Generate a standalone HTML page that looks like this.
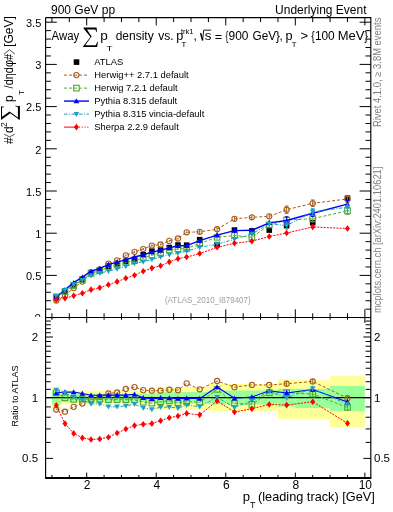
<!DOCTYPE html><html><head><meta charset="utf-8"><style>html,body{margin:0;padding:0;background:#fff;overflow:hidden}svg{display:block}text{font-family:"Liberation Sans",sans-serif}svg{will-change:transform}</style></head><body>
<svg width="393" height="512" viewBox="0 0 393 512">
<rect width="393" height="512" fill="#fff"/>
<g id="main">
<rect x="53.48" y="295.22" width="5.6" height="5.6" fill="#000"/>
<rect x="62.17" y="288.72" width="5.6" height="5.6" fill="#000"/>
<rect x="70.86" y="282.05" width="5.6" height="5.6" fill="#000"/>
<rect x="79.55" y="276.31" width="5.6" height="5.6" fill="#000"/>
<rect x="88.25" y="269.73" width="5.6" height="5.6" fill="#000"/>
<rect x="96.94" y="267.03" width="5.6" height="5.6" fill="#000"/>
<rect x="105.63" y="263.32" width="5.6" height="5.6" fill="#000"/>
<rect x="114.32" y="260.95" width="5.6" height="5.6" fill="#000"/>
<rect x="123.02" y="258.51" width="5.6" height="5.6" fill="#000"/>
<rect x="131.71" y="256.56" width="5.6" height="5.6" fill="#000"/>
<rect x="140.40" y="251.92" width="5.6" height="5.6" fill="#000"/>
<rect x="149.09" y="248.29" width="5.6" height="5.6" fill="#000"/>
<rect x="157.79" y="247.28" width="5.6" height="5.6" fill="#000"/>
<rect x="166.48" y="244.75" width="5.6" height="5.6" fill="#000"/>
<rect x="175.17" y="242.22" width="5.6" height="5.6" fill="#000"/>
<rect x="183.86" y="242.38" width="5.6" height="5.6" fill="#000"/>
<rect x="196.90" y="236.90" width="5.6" height="5.6" fill="#000"/>
<rect x="214.29" y="241.79" width="5.6" height="5.6" fill="#000"/>
<rect x="231.67" y="227.28" width="5.6" height="5.6" fill="#000"/>
<rect x="249.06" y="228.12" width="5.6" height="5.6" fill="#000"/>
<rect x="266.44" y="227.28" width="5.6" height="5.6" fill="#000"/>
<rect x="283.83" y="222.80" width="5.6" height="5.6" fill="#000"/>
<rect x="309.91" y="219.85" width="5.6" height="5.6" fill="#000"/>
<rect x="344.68" y="195.46" width="5.6" height="5.6" fill="#000"/>
<path d="M56.28,300.49 L64.97,295.38 L73.66,288.09 L82.35,281.58 L91.05,273.43 L99.74,269.35 L108.43,263.54 L117.12,260.41 L125.82,255.39 L134.51,251.85 L143.20,249.06 L151.89,245.57 L160.59,244.48 L169.28,240.89 L177.97,238.48 L186.66,232.29 L199.70,231.83 L217.09,229.26 L234.47,218.87 L251.86,217.31 L269.24,216.34 L286.63,209.69 L312.71,203.28 L347.48,198.97" fill="none" stroke="#a85c1c" stroke-width="1.0" stroke-dasharray="3,2"/>
<path d="M56.28,299.49V301.49" stroke="#a85c1c" stroke-width="1"/>
<circle cx="56.28" cy="300.49" r="2.6" fill="none" stroke="#a85c1c" stroke-width="1.1"/>
<path d="M64.97,294.38V296.38" stroke="#a85c1c" stroke-width="1"/>
<circle cx="64.97" cy="295.38" r="2.6" fill="none" stroke="#a85c1c" stroke-width="1.1"/>
<path d="M73.66,287.09V289.09" stroke="#a85c1c" stroke-width="1"/>
<circle cx="73.66" cy="288.09" r="2.6" fill="none" stroke="#a85c1c" stroke-width="1.1"/>
<path d="M82.35,280.58V282.58" stroke="#a85c1c" stroke-width="1"/>
<circle cx="82.35" cy="281.58" r="2.6" fill="none" stroke="#a85c1c" stroke-width="1.1"/>
<path d="M91.05,272.43V274.43" stroke="#a85c1c" stroke-width="1"/>
<circle cx="91.05" cy="273.43" r="2.6" fill="none" stroke="#a85c1c" stroke-width="1.1"/>
<path d="M99.74,268.35V270.35" stroke="#a85c1c" stroke-width="1"/>
<circle cx="99.74" cy="269.35" r="2.6" fill="none" stroke="#a85c1c" stroke-width="1.1"/>
<path d="M108.43,262.54V264.54" stroke="#a85c1c" stroke-width="1"/>
<circle cx="108.43" cy="263.54" r="2.6" fill="none" stroke="#a85c1c" stroke-width="1.1"/>
<path d="M117.12,259.41V261.41" stroke="#a85c1c" stroke-width="1"/>
<circle cx="117.12" cy="260.41" r="2.6" fill="none" stroke="#a85c1c" stroke-width="1.1"/>
<path d="M125.82,254.39V256.39" stroke="#a85c1c" stroke-width="1"/>
<circle cx="125.82" cy="255.39" r="2.6" fill="none" stroke="#a85c1c" stroke-width="1.1"/>
<path d="M134.51,250.85V252.85" stroke="#a85c1c" stroke-width="1"/>
<circle cx="134.51" cy="251.85" r="2.6" fill="none" stroke="#a85c1c" stroke-width="1.1"/>
<path d="M143.20,248.06V250.06" stroke="#a85c1c" stroke-width="1"/>
<circle cx="143.20" cy="249.06" r="2.6" fill="none" stroke="#a85c1c" stroke-width="1.1"/>
<path d="M151.89,244.57V246.57" stroke="#a85c1c" stroke-width="1"/>
<circle cx="151.89" cy="245.57" r="2.6" fill="none" stroke="#a85c1c" stroke-width="1.1"/>
<path d="M160.59,243.48V245.48" stroke="#a85c1c" stroke-width="1"/>
<circle cx="160.59" cy="244.48" r="2.6" fill="none" stroke="#a85c1c" stroke-width="1.1"/>
<path d="M169.28,239.89V241.89" stroke="#a85c1c" stroke-width="1"/>
<circle cx="169.28" cy="240.89" r="2.6" fill="none" stroke="#a85c1c" stroke-width="1.1"/>
<path d="M177.97,237.48V239.48" stroke="#a85c1c" stroke-width="1"/>
<circle cx="177.97" cy="238.48" r="2.6" fill="none" stroke="#a85c1c" stroke-width="1.1"/>
<path d="M186.66,231.29V233.29" stroke="#a85c1c" stroke-width="1"/>
<circle cx="186.66" cy="232.29" r="2.6" fill="none" stroke="#a85c1c" stroke-width="1.1"/>
<path d="M199.70,229.63V234.03" stroke="#a85c1c" stroke-width="1"/>
<circle cx="199.70" cy="231.83" r="2.6" fill="none" stroke="#a85c1c" stroke-width="1.1"/>
<path d="M217.09,227.06V231.46" stroke="#a85c1c" stroke-width="1"/>
<circle cx="217.09" cy="229.26" r="2.6" fill="none" stroke="#a85c1c" stroke-width="1.1"/>
<path d="M234.47,216.47V221.27" stroke="#a85c1c" stroke-width="1"/>
<circle cx="234.47" cy="218.87" r="2.6" fill="none" stroke="#a85c1c" stroke-width="1.1"/>
<path d="M251.86,214.91V219.71" stroke="#a85c1c" stroke-width="1"/>
<circle cx="251.86" cy="217.31" r="2.6" fill="none" stroke="#a85c1c" stroke-width="1.1"/>
<path d="M269.24,213.74V218.94" stroke="#a85c1c" stroke-width="1"/>
<circle cx="269.24" cy="216.34" r="2.6" fill="none" stroke="#a85c1c" stroke-width="1.1"/>
<path d="M286.63,206.09V213.29M284.83,206.09h3.6M284.83,213.29h3.6" stroke="#a85c1c" stroke-width="1"/>
<circle cx="286.63" cy="209.69" r="2.6" fill="none" stroke="#a85c1c" stroke-width="1.1"/>
<path d="M312.71,199.98V206.58M310.91,199.98h3.6M310.91,206.58h3.6" stroke="#a85c1c" stroke-width="1"/>
<circle cx="312.71" cy="203.28" r="2.6" fill="none" stroke="#a85c1c" stroke-width="1.1"/>
<path d="M347.48,195.47V202.47M345.68,195.47h3.6M345.68,202.47h3.6" stroke="#a85c1c" stroke-width="1"/>
<circle cx="347.48" cy="198.97" r="2.6" fill="none" stroke="#a85c1c" stroke-width="1.1"/>
<path d="M56.28,296.90 L64.97,291.55 L73.66,285.47 L82.35,279.73 L91.05,273.39 L99.74,270.59 L108.43,267.25 L117.12,264.94 L125.82,262.54 L134.51,260.65 L143.20,257.87 L151.89,255.08 L160.59,253.12 L169.28,250.07 L177.97,249.01 L186.66,248.44 L199.70,243.59 L217.09,237.29 L234.47,235.50 L251.86,237.34 L269.24,225.00 L286.63,220.08 L312.71,218.66 L347.48,210.79" fill="none" stroke="#4fa832" stroke-width="1.0" stroke-dasharray="3,2"/>
<path d="M56.28,295.90V297.90" stroke="#4fa832" stroke-width="1"/>
<rect x="53.48" y="294.10" width="5.6" height="5.6" fill="none" stroke="#4fa832" stroke-width="1.1"/>
<path d="M64.97,290.55V292.55" stroke="#4fa832" stroke-width="1"/>
<rect x="62.17" y="288.75" width="5.6" height="5.6" fill="none" stroke="#4fa832" stroke-width="1.1"/>
<path d="M73.66,284.47V286.47" stroke="#4fa832" stroke-width="1"/>
<rect x="70.86" y="282.67" width="5.6" height="5.6" fill="none" stroke="#4fa832" stroke-width="1.1"/>
<path d="M82.35,278.73V280.73" stroke="#4fa832" stroke-width="1"/>
<rect x="79.55" y="276.93" width="5.6" height="5.6" fill="none" stroke="#4fa832" stroke-width="1.1"/>
<path d="M91.05,272.39V274.39" stroke="#4fa832" stroke-width="1"/>
<rect x="88.25" y="270.59" width="5.6" height="5.6" fill="none" stroke="#4fa832" stroke-width="1.1"/>
<path d="M99.74,269.59V271.59" stroke="#4fa832" stroke-width="1"/>
<rect x="96.94" y="267.79" width="5.6" height="5.6" fill="none" stroke="#4fa832" stroke-width="1.1"/>
<path d="M108.43,266.25V268.25" stroke="#4fa832" stroke-width="1"/>
<rect x="105.63" y="264.45" width="5.6" height="5.6" fill="none" stroke="#4fa832" stroke-width="1.1"/>
<path d="M117.12,263.94V265.94" stroke="#4fa832" stroke-width="1"/>
<rect x="114.32" y="262.14" width="5.6" height="5.6" fill="none" stroke="#4fa832" stroke-width="1.1"/>
<path d="M125.82,261.54V263.54" stroke="#4fa832" stroke-width="1"/>
<rect x="123.02" y="259.74" width="5.6" height="5.6" fill="none" stroke="#4fa832" stroke-width="1.1"/>
<path d="M134.51,259.65V261.65" stroke="#4fa832" stroke-width="1"/>
<rect x="131.71" y="257.85" width="5.6" height="5.6" fill="none" stroke="#4fa832" stroke-width="1.1"/>
<path d="M143.20,256.87V258.87" stroke="#4fa832" stroke-width="1"/>
<rect x="140.40" y="255.07" width="5.6" height="5.6" fill="none" stroke="#4fa832" stroke-width="1.1"/>
<path d="M151.89,254.08V256.08" stroke="#4fa832" stroke-width="1"/>
<rect x="149.09" y="252.28" width="5.6" height="5.6" fill="none" stroke="#4fa832" stroke-width="1.1"/>
<path d="M160.59,252.12V254.12" stroke="#4fa832" stroke-width="1"/>
<rect x="157.79" y="250.32" width="5.6" height="5.6" fill="none" stroke="#4fa832" stroke-width="1.1"/>
<path d="M169.28,249.07V251.07" stroke="#4fa832" stroke-width="1"/>
<rect x="166.48" y="247.27" width="5.6" height="5.6" fill="none" stroke="#4fa832" stroke-width="1.1"/>
<path d="M177.97,248.01V250.01" stroke="#4fa832" stroke-width="1"/>
<rect x="175.17" y="246.21" width="5.6" height="5.6" fill="none" stroke="#4fa832" stroke-width="1.1"/>
<path d="M186.66,247.44V249.44" stroke="#4fa832" stroke-width="1"/>
<rect x="183.86" y="245.64" width="5.6" height="5.6" fill="none" stroke="#4fa832" stroke-width="1.1"/>
<path d="M199.70,241.39V245.79" stroke="#4fa832" stroke-width="1"/>
<rect x="196.90" y="240.79" width="5.6" height="5.6" fill="none" stroke="#4fa832" stroke-width="1.1"/>
<path d="M217.09,235.09V239.49" stroke="#4fa832" stroke-width="1"/>
<rect x="214.29" y="234.49" width="5.6" height="5.6" fill="none" stroke="#4fa832" stroke-width="1.1"/>
<path d="M234.47,233.10V237.90" stroke="#4fa832" stroke-width="1"/>
<rect x="231.67" y="232.70" width="5.6" height="5.6" fill="none" stroke="#4fa832" stroke-width="1.1"/>
<path d="M251.86,234.94V239.74" stroke="#4fa832" stroke-width="1"/>
<rect x="249.06" y="234.54" width="5.6" height="5.6" fill="none" stroke="#4fa832" stroke-width="1.1"/>
<path d="M269.24,222.40V227.60" stroke="#4fa832" stroke-width="1"/>
<rect x="266.44" y="222.20" width="5.6" height="5.6" fill="none" stroke="#4fa832" stroke-width="1.1"/>
<path d="M286.63,216.48V223.68M284.83,216.48h3.6M284.83,223.68h3.6" stroke="#4fa832" stroke-width="1"/>
<rect x="283.83" y="217.28" width="5.6" height="5.6" fill="none" stroke="#4fa832" stroke-width="1.1"/>
<path d="M312.71,215.36V221.96M310.91,215.36h3.6M310.91,221.96h3.6" stroke="#4fa832" stroke-width="1"/>
<rect x="309.91" y="215.86" width="5.6" height="5.6" fill="none" stroke="#4fa832" stroke-width="1.1"/>
<path d="M347.48,207.29V214.29M345.68,207.29h3.6M345.68,214.29h3.6" stroke="#4fa832" stroke-width="1"/>
<rect x="344.68" y="207.99" width="5.6" height="5.6" fill="none" stroke="#4fa832" stroke-width="1.1"/>
<path d="M56.28,296.94 L64.97,289.80 L73.66,282.69 L82.35,277.19 L91.05,271.22 L99.74,268.44 L108.43,264.57 L117.12,262.14 L125.82,259.62 L134.51,257.03 L143.20,254.72 L151.89,252.09 L160.59,250.22 L169.28,247.83 L177.97,245.81 L186.66,245.62 L199.70,240.56 L217.09,235.10 L234.47,230.60 L251.86,230.31 L269.24,222.81 L286.63,220.54 L312.71,213.25 L347.48,204.11" fill="none" stroke="#0000ff" stroke-width="1.4"/>
<path d="M56.28,295.94V297.94" stroke="#0000ff" stroke-width="1"/>
<path d="M56.28,294.14L59.08,299.14L53.48,299.14Z" fill="#0000ff"/>
<path d="M64.97,288.80V290.80" stroke="#0000ff" stroke-width="1"/>
<path d="M64.97,287.00L67.77,292.00L62.17,292.00Z" fill="#0000ff"/>
<path d="M73.66,281.69V283.69" stroke="#0000ff" stroke-width="1"/>
<path d="M73.66,279.89L76.46,284.89L70.86,284.89Z" fill="#0000ff"/>
<path d="M82.35,276.19V278.19" stroke="#0000ff" stroke-width="1"/>
<path d="M82.35,274.39L85.15,279.39L79.55,279.39Z" fill="#0000ff"/>
<path d="M91.05,270.22V272.22" stroke="#0000ff" stroke-width="1"/>
<path d="M91.05,268.42L93.85,273.42L88.25,273.42Z" fill="#0000ff"/>
<path d="M99.74,267.44V269.44" stroke="#0000ff" stroke-width="1"/>
<path d="M99.74,265.64L102.54,270.64L96.94,270.64Z" fill="#0000ff"/>
<path d="M108.43,263.57V265.57" stroke="#0000ff" stroke-width="1"/>
<path d="M108.43,261.77L111.23,266.77L105.63,266.77Z" fill="#0000ff"/>
<path d="M117.12,261.14V263.14" stroke="#0000ff" stroke-width="1"/>
<path d="M117.12,259.34L119.92,264.34L114.32,264.34Z" fill="#0000ff"/>
<path d="M125.82,258.62V260.62" stroke="#0000ff" stroke-width="1"/>
<path d="M125.82,256.82L128.62,261.82L123.02,261.82Z" fill="#0000ff"/>
<path d="M134.51,256.03V258.03" stroke="#0000ff" stroke-width="1"/>
<path d="M134.51,254.23L137.31,259.23L131.71,259.23Z" fill="#0000ff"/>
<path d="M143.20,253.72V255.72" stroke="#0000ff" stroke-width="1"/>
<path d="M143.20,251.92L146.00,256.92L140.40,256.92Z" fill="#0000ff"/>
<path d="M151.89,251.09V253.09" stroke="#0000ff" stroke-width="1"/>
<path d="M151.89,249.29L154.69,254.29L149.09,254.29Z" fill="#0000ff"/>
<path d="M160.59,249.22V251.22" stroke="#0000ff" stroke-width="1"/>
<path d="M160.59,247.42L163.39,252.42L157.79,252.42Z" fill="#0000ff"/>
<path d="M169.28,246.83V248.83" stroke="#0000ff" stroke-width="1"/>
<path d="M169.28,245.03L172.08,250.03L166.48,250.03Z" fill="#0000ff"/>
<path d="M177.97,244.81V246.81" stroke="#0000ff" stroke-width="1"/>
<path d="M177.97,243.01L180.77,248.01L175.17,248.01Z" fill="#0000ff"/>
<path d="M186.66,244.62V246.62" stroke="#0000ff" stroke-width="1"/>
<path d="M186.66,242.82L189.46,247.82L183.86,247.82Z" fill="#0000ff"/>
<path d="M199.70,238.36V242.76" stroke="#0000ff" stroke-width="1"/>
<path d="M199.70,237.76L202.50,242.76L196.90,242.76Z" fill="#0000ff"/>
<path d="M217.09,232.90V237.30" stroke="#0000ff" stroke-width="1"/>
<path d="M217.09,232.30L219.89,237.30L214.29,237.30Z" fill="#0000ff"/>
<path d="M234.47,228.20V233.00" stroke="#0000ff" stroke-width="1"/>
<path d="M234.47,227.80L237.27,232.80L231.67,232.80Z" fill="#0000ff"/>
<path d="M251.86,227.91V232.71" stroke="#0000ff" stroke-width="1"/>
<path d="M251.86,227.51L254.66,232.51L249.06,232.51Z" fill="#0000ff"/>
<path d="M269.24,220.21V225.41" stroke="#0000ff" stroke-width="1"/>
<path d="M269.24,220.01L272.04,225.01L266.44,225.01Z" fill="#0000ff"/>
<path d="M286.63,216.94V224.14M284.83,216.94h3.6M284.83,224.14h3.6" stroke="#0000ff" stroke-width="1"/>
<path d="M286.63,217.74L289.43,222.74L283.83,222.74Z" fill="#0000ff"/>
<path d="M312.71,209.95V216.55M310.91,209.95h3.6M310.91,216.55h3.6" stroke="#0000ff" stroke-width="1"/>
<path d="M312.71,210.45L315.51,215.45L309.91,215.45Z" fill="#0000ff"/>
<path d="M347.48,200.61V207.61M345.68,200.61h3.6M345.68,207.61h3.6" stroke="#0000ff" stroke-width="1"/>
<path d="M347.48,201.31L350.28,206.31L344.68,206.31Z" fill="#0000ff"/>
<path d="M56.28,296.20 L64.97,290.09 L73.66,284.56 L82.35,280.11 L91.05,275.60 L99.74,273.08 L108.43,271.16 L117.12,269.03 L125.82,266.37 L134.51,263.50 L143.20,261.64 L151.89,259.47 L160.59,256.97 L169.28,254.69 L177.97,253.15 L186.66,251.20 L199.70,247.26 L217.09,244.23 L234.47,239.27 L251.86,233.95 L269.24,223.95 L286.63,225.51 L312.71,212.02 L347.48,207.21" fill="none" stroke="#1aa0c8" stroke-width="1.0" stroke-dasharray="3.5,1.5,1,1.5"/>
<path d="M56.28,295.20V297.20" stroke="#1aa0c8" stroke-width="1"/>
<path d="M56.28,299.00L59.08,294.00L53.48,294.00Z" fill="#1aa0c8"/>
<path d="M64.97,289.09V291.09" stroke="#1aa0c8" stroke-width="1"/>
<path d="M64.97,292.89L67.77,287.89L62.17,287.89Z" fill="#1aa0c8"/>
<path d="M73.66,283.56V285.56" stroke="#1aa0c8" stroke-width="1"/>
<path d="M73.66,287.36L76.46,282.36L70.86,282.36Z" fill="#1aa0c8"/>
<path d="M82.35,279.11V281.11" stroke="#1aa0c8" stroke-width="1"/>
<path d="M82.35,282.91L85.15,277.91L79.55,277.91Z" fill="#1aa0c8"/>
<path d="M91.05,274.60V276.60" stroke="#1aa0c8" stroke-width="1"/>
<path d="M91.05,278.40L93.85,273.40L88.25,273.40Z" fill="#1aa0c8"/>
<path d="M99.74,272.08V274.08" stroke="#1aa0c8" stroke-width="1"/>
<path d="M99.74,275.88L102.54,270.88L96.94,270.88Z" fill="#1aa0c8"/>
<path d="M108.43,270.16V272.16" stroke="#1aa0c8" stroke-width="1"/>
<path d="M108.43,273.96L111.23,268.96L105.63,268.96Z" fill="#1aa0c8"/>
<path d="M117.12,268.03V270.03" stroke="#1aa0c8" stroke-width="1"/>
<path d="M117.12,271.83L119.92,266.83L114.32,266.83Z" fill="#1aa0c8"/>
<path d="M125.82,265.37V267.37" stroke="#1aa0c8" stroke-width="1"/>
<path d="M125.82,269.17L128.62,264.17L123.02,264.17Z" fill="#1aa0c8"/>
<path d="M134.51,262.50V264.50" stroke="#1aa0c8" stroke-width="1"/>
<path d="M134.51,266.30L137.31,261.30L131.71,261.30Z" fill="#1aa0c8"/>
<path d="M143.20,260.64V262.64" stroke="#1aa0c8" stroke-width="1"/>
<path d="M143.20,264.44L146.00,259.44L140.40,259.44Z" fill="#1aa0c8"/>
<path d="M151.89,258.47V260.47" stroke="#1aa0c8" stroke-width="1"/>
<path d="M151.89,262.27L154.69,257.27L149.09,257.27Z" fill="#1aa0c8"/>
<path d="M160.59,255.97V257.97" stroke="#1aa0c8" stroke-width="1"/>
<path d="M160.59,259.77L163.39,254.77L157.79,254.77Z" fill="#1aa0c8"/>
<path d="M169.28,253.69V255.69" stroke="#1aa0c8" stroke-width="1"/>
<path d="M169.28,257.49L172.08,252.49L166.48,252.49Z" fill="#1aa0c8"/>
<path d="M177.97,252.15V254.15" stroke="#1aa0c8" stroke-width="1"/>
<path d="M177.97,255.95L180.77,250.95L175.17,250.95Z" fill="#1aa0c8"/>
<path d="M186.66,250.20V252.20" stroke="#1aa0c8" stroke-width="1"/>
<path d="M186.66,254.00L189.46,249.00L183.86,249.00Z" fill="#1aa0c8"/>
<path d="M199.70,245.06V249.46" stroke="#1aa0c8" stroke-width="1"/>
<path d="M199.70,250.06L202.50,245.06L196.90,245.06Z" fill="#1aa0c8"/>
<path d="M217.09,242.03V246.43" stroke="#1aa0c8" stroke-width="1"/>
<path d="M217.09,247.03L219.89,242.03L214.29,242.03Z" fill="#1aa0c8"/>
<path d="M234.47,236.87V241.67" stroke="#1aa0c8" stroke-width="1"/>
<path d="M234.47,242.07L237.27,237.07L231.67,237.07Z" fill="#1aa0c8"/>
<path d="M251.86,231.55V236.35" stroke="#1aa0c8" stroke-width="1"/>
<path d="M251.86,236.75L254.66,231.75L249.06,231.75Z" fill="#1aa0c8"/>
<path d="M269.24,221.35V226.55" stroke="#1aa0c8" stroke-width="1"/>
<path d="M269.24,226.75L272.04,221.75L266.44,221.75Z" fill="#1aa0c8"/>
<path d="M286.63,221.91V229.11M284.83,221.91h3.6M284.83,229.11h3.6" stroke="#1aa0c8" stroke-width="1"/>
<path d="M286.63,228.31L289.43,223.31L283.83,223.31Z" fill="#1aa0c8"/>
<path d="M312.71,208.72V215.32M310.91,208.72h3.6M310.91,215.32h3.6" stroke="#1aa0c8" stroke-width="1"/>
<path d="M312.71,214.82L315.51,209.82L309.91,209.82Z" fill="#1aa0c8"/>
<path d="M347.48,203.71V210.71M345.68,203.71h3.6M345.68,210.71h3.6" stroke="#1aa0c8" stroke-width="1"/>
<path d="M347.48,210.01L350.28,205.01L344.68,205.01Z" fill="#1aa0c8"/>
<path d="M56.28,299.66 L64.97,298.20 L73.66,295.82 L82.35,293.28 L91.05,289.66 L99.74,287.79 L108.43,284.80 L117.12,281.63 L125.82,278.25 L134.51,275.26 L143.20,271.20 L151.89,268.12 L160.59,265.68 L169.28,261.91 L177.97,258.73 L186.66,257.06 L199.70,253.57 L217.09,247.22 L234.47,243.29 L251.86,241.15 L269.24,236.55 L286.63,233.06 L312.71,226.92 L347.48,228.57" fill="none" stroke="#ff0000" stroke-width="1.0" stroke-dasharray="2,1.2"/>
<path d="M56.28,296.36L58.78,299.66L56.28,302.96L53.78,299.66Z" fill="#ff0000"/>
<path d="M64.97,294.90L67.47,298.20L64.97,301.50L62.47,298.20Z" fill="#ff0000"/>
<path d="M73.66,292.52L76.16,295.82L73.66,299.12L71.16,295.82Z" fill="#ff0000"/>
<path d="M82.35,289.98L84.85,293.28L82.35,296.58L79.85,293.28Z" fill="#ff0000"/>
<path d="M91.05,286.36L93.55,289.66L91.05,292.96L88.55,289.66Z" fill="#ff0000"/>
<path d="M99.74,284.49L102.24,287.79L99.74,291.09L97.24,287.79Z" fill="#ff0000"/>
<path d="M108.43,281.50L110.93,284.80L108.43,288.10L105.93,284.80Z" fill="#ff0000"/>
<path d="M117.12,278.33L119.62,281.63L117.12,284.93L114.62,281.63Z" fill="#ff0000"/>
<path d="M125.82,274.95L128.32,278.25L125.82,281.55L123.32,278.25Z" fill="#ff0000"/>
<path d="M134.51,271.96L137.01,275.26L134.51,278.56L132.01,275.26Z" fill="#ff0000"/>
<path d="M143.20,267.90L145.70,271.20L143.20,274.50L140.70,271.20Z" fill="#ff0000"/>
<path d="M151.89,264.82L154.39,268.12L151.89,271.42L149.39,268.12Z" fill="#ff0000"/>
<path d="M160.59,262.38L163.09,265.68L160.59,268.98L158.09,265.68Z" fill="#ff0000"/>
<path d="M169.28,258.61L171.78,261.91L169.28,265.21L166.78,261.91Z" fill="#ff0000"/>
<path d="M177.97,255.43L180.47,258.73L177.97,262.03L175.47,258.73Z" fill="#ff0000"/>
<path d="M186.66,253.76L189.16,257.06L186.66,260.36L184.16,257.06Z" fill="#ff0000"/>
<path d="M199.70,250.27L202.20,253.57L199.70,256.87L197.20,253.57Z" fill="#ff0000"/>
<path d="M217.09,243.92L219.59,247.22L217.09,250.52L214.59,247.22Z" fill="#ff0000"/>
<path d="M234.47,239.99L236.97,243.29L234.47,246.59L231.97,243.29Z" fill="#ff0000"/>
<path d="M251.86,237.85L254.36,241.15L251.86,244.45L249.36,241.15Z" fill="#ff0000"/>
<path d="M269.24,233.25L271.74,236.55L269.24,239.85L266.74,236.55Z" fill="#ff0000"/>
<path d="M286.63,229.76L289.13,233.06L286.63,236.36L284.13,233.06Z" fill="#ff0000"/>
<path d="M312.71,223.62L315.21,226.92L312.71,230.22L310.21,226.92Z" fill="#ff0000"/>
<path d="M347.48,225.27L349.98,228.57L347.48,231.87L344.98,228.57Z" fill="#ff0000"/>
</g>
<text x="41" y="321.6" font-size="11.5" text-anchor="end">0</text>
<rect x="0" y="316.8" width="393" height="195.2" fill="#fff"/>
<rect x="51.93" y="388.2" width="8.69" height="20.40" fill="#ffff99"/>
<rect x="51.93" y="391.3" width="8.69" height="13.20" fill="#99ff99"/>
<rect x="60.62" y="390.6" width="8.69" height="13.80" fill="#ffff99"/>
<rect x="60.62" y="393.7" width="8.69" height="8.10" fill="#99ff99"/>
<rect x="69.31" y="390.6" width="8.69" height="13.80" fill="#ffff99"/>
<rect x="69.31" y="393.7" width="8.69" height="8.10" fill="#99ff99"/>
<rect x="78.01" y="390.6" width="8.69" height="13.80" fill="#ffff99"/>
<rect x="78.01" y="393.7" width="8.69" height="8.10" fill="#99ff99"/>
<rect x="86.70" y="390.6" width="8.69" height="13.80" fill="#ffff99"/>
<rect x="86.70" y="393.7" width="8.69" height="8.10" fill="#99ff99"/>
<rect x="95.39" y="390.6" width="8.69" height="13.80" fill="#ffff99"/>
<rect x="95.39" y="393.7" width="8.69" height="8.10" fill="#99ff99"/>
<rect x="104.09" y="390.6" width="8.69" height="13.80" fill="#ffff99"/>
<rect x="104.09" y="393.7" width="8.69" height="8.10" fill="#99ff99"/>
<rect x="112.78" y="390.6" width="8.69" height="13.80" fill="#ffff99"/>
<rect x="112.78" y="393.7" width="8.69" height="8.10" fill="#99ff99"/>
<rect x="121.47" y="390.6" width="8.69" height="13.80" fill="#ffff99"/>
<rect x="121.47" y="393.7" width="8.69" height="8.10" fill="#99ff99"/>
<rect x="130.16" y="390.6" width="8.69" height="13.80" fill="#ffff99"/>
<rect x="130.16" y="393.7" width="8.69" height="8.10" fill="#99ff99"/>
<rect x="138.86" y="390.6" width="8.69" height="13.80" fill="#ffff99"/>
<rect x="138.86" y="393.7" width="8.69" height="8.10" fill="#99ff99"/>
<rect x="147.55" y="390.6" width="8.69" height="13.80" fill="#ffff99"/>
<rect x="147.55" y="393.7" width="8.69" height="8.10" fill="#99ff99"/>
<rect x="156.24" y="387.0" width="8.69" height="22.50" fill="#ffff99"/>
<rect x="156.24" y="392.0" width="8.69" height="11.60" fill="#99ff99"/>
<rect x="164.93" y="387.0" width="8.69" height="22.50" fill="#ffff99"/>
<rect x="164.93" y="392.0" width="8.69" height="11.60" fill="#99ff99"/>
<rect x="173.62" y="387.0" width="8.69" height="22.50" fill="#ffff99"/>
<rect x="173.62" y="392.0" width="8.69" height="11.60" fill="#99ff99"/>
<rect x="182.32" y="387.0" width="8.69" height="22.50" fill="#ffff99"/>
<rect x="182.32" y="392.0" width="8.69" height="11.60" fill="#99ff99"/>
<rect x="191.01" y="387.0" width="17.39" height="22.50" fill="#ffff99"/>
<rect x="191.01" y="392.0" width="17.39" height="11.60" fill="#99ff99"/>
<rect x="208.40" y="384.0" width="17.39" height="27.00" fill="#ffff99"/>
<rect x="208.40" y="390.5" width="17.39" height="14.00" fill="#99ff99"/>
<rect x="225.78" y="384.0" width="17.38" height="27.00" fill="#ffff99"/>
<rect x="225.78" y="390.5" width="17.38" height="14.00" fill="#99ff99"/>
<rect x="243.17" y="384.0" width="17.38" height="27.00" fill="#ffff99"/>
<rect x="243.17" y="390.5" width="17.38" height="14.00" fill="#99ff99"/>
<rect x="260.55" y="384.0" width="17.38" height="27.00" fill="#ffff99"/>
<rect x="260.55" y="390.5" width="17.38" height="14.00" fill="#99ff99"/>
<rect x="277.94" y="379.2" width="17.38" height="39.70" fill="#ffff99"/>
<rect x="277.94" y="388.9" width="17.38" height="17.70" fill="#99ff99"/>
<rect x="295.32" y="380.2" width="34.77" height="39.40" fill="#ffff99"/>
<rect x="295.32" y="388.9" width="34.77" height="19.20" fill="#99ff99"/>
<rect x="330.09" y="376.1" width="34.77" height="51.00" fill="#ffff99"/>
<rect x="330.09" y="385.9" width="34.77" height="25.20" fill="#99ff99"/>
<path d="M45.6,397.70H370.8" stroke="#000" stroke-width="1.3"/>
<path d="M56.28,409.49 L64.97,411.72 L73.66,406.83 L82.35,403.49 L91.05,399.47 L99.74,396.83 L108.43,393.43 L117.12,392.43 L125.82,388.96 L134.51,387.08 L143.20,390.15 L151.89,390.72 L160.59,390.72 L169.28,389.75 L177.97,390.15 L186.66,383.36 L199.70,389.28 L217.09,381.01 L234.47,387.15 L251.86,384.93 L269.24,384.93 L286.63,383.73 L312.71,381.45 L347.48,398.23" fill="none" stroke="#a85c1c" stroke-width="1.0" stroke-dasharray="3,2"/>
<circle cx="56.28" cy="409.49" r="2.6" fill="none" stroke="#a85c1c" stroke-width="1.1"/>
<circle cx="64.97" cy="411.72" r="2.6" fill="none" stroke="#a85c1c" stroke-width="1.1"/>
<circle cx="73.66" cy="406.83" r="2.6" fill="none" stroke="#a85c1c" stroke-width="1.1"/>
<circle cx="82.35" cy="403.49" r="2.6" fill="none" stroke="#a85c1c" stroke-width="1.1"/>
<circle cx="91.05" cy="399.47" r="2.6" fill="none" stroke="#a85c1c" stroke-width="1.1"/>
<circle cx="99.74" cy="396.83" r="2.6" fill="none" stroke="#a85c1c" stroke-width="1.1"/>
<circle cx="108.43" cy="393.43" r="2.6" fill="none" stroke="#a85c1c" stroke-width="1.1"/>
<circle cx="117.12" cy="392.43" r="2.6" fill="none" stroke="#a85c1c" stroke-width="1.1"/>
<circle cx="125.82" cy="388.96" r="2.6" fill="none" stroke="#a85c1c" stroke-width="1.1"/>
<circle cx="134.51" cy="387.08" r="2.6" fill="none" stroke="#a85c1c" stroke-width="1.1"/>
<circle cx="143.20" cy="390.15" r="2.6" fill="none" stroke="#a85c1c" stroke-width="1.1"/>
<circle cx="151.89" cy="390.72" r="2.6" fill="none" stroke="#a85c1c" stroke-width="1.1"/>
<circle cx="160.59" cy="390.72" r="2.6" fill="none" stroke="#a85c1c" stroke-width="1.1"/>
<circle cx="169.28" cy="389.75" r="2.6" fill="none" stroke="#a85c1c" stroke-width="1.1"/>
<circle cx="177.97" cy="390.15" r="2.6" fill="none" stroke="#a85c1c" stroke-width="1.1"/>
<circle cx="186.66" cy="383.36" r="2.6" fill="none" stroke="#a85c1c" stroke-width="1.1"/>
<circle cx="199.70" cy="389.28" r="2.6" fill="none" stroke="#a85c1c" stroke-width="1.1"/>
<circle cx="217.09" cy="381.01" r="2.6" fill="none" stroke="#a85c1c" stroke-width="1.1"/>
<circle cx="234.47" cy="387.15" r="2.6" fill="none" stroke="#a85c1c" stroke-width="1.1"/>
<circle cx="251.86" cy="384.93" r="2.6" fill="none" stroke="#a85c1c" stroke-width="1.1"/>
<circle cx="269.24" cy="384.93" r="2.6" fill="none" stroke="#a85c1c" stroke-width="1.1"/>
<path d="M286.63,380.85V386.61" stroke="#a85c1c" stroke-width="1"/>
<circle cx="286.63" cy="383.73" r="2.6" fill="none" stroke="#a85c1c" stroke-width="1.1"/>
<path d="M312.71,378.81V384.09" stroke="#a85c1c" stroke-width="1"/>
<circle cx="312.71" cy="381.45" r="2.6" fill="none" stroke="#a85c1c" stroke-width="1.1"/>
<path d="M347.48,395.43V401.03" stroke="#a85c1c" stroke-width="1"/>
<circle cx="347.48" cy="398.23" r="2.6" fill="none" stroke="#a85c1c" stroke-width="1.1"/>
<path d="M56.28,392.85 L64.97,397.79 L73.66,399.38 L82.35,399.11 L91.05,399.38 L99.74,399.11 L108.43,399.65 L117.12,399.65 L125.82,399.65 L134.51,399.65 L143.20,402.19 L151.89,403.12 L160.59,401.73 L169.28,400.91 L177.97,402.65 L186.66,401.73 L199.70,402.19 L217.09,389.36 L234.47,403.30 L251.86,404.43 L269.24,392.76 L286.63,392.60 L312.71,394.10 L347.48,407.41" fill="none" stroke="#4fa832" stroke-width="1.0" stroke-dasharray="3,2"/>
<rect x="53.48" y="390.05" width="5.6" height="5.6" fill="none" stroke="#4fa832" stroke-width="1.1"/>
<rect x="62.17" y="394.99" width="5.6" height="5.6" fill="none" stroke="#4fa832" stroke-width="1.1"/>
<rect x="70.86" y="396.58" width="5.6" height="5.6" fill="none" stroke="#4fa832" stroke-width="1.1"/>
<rect x="79.55" y="396.31" width="5.6" height="5.6" fill="none" stroke="#4fa832" stroke-width="1.1"/>
<rect x="88.25" y="396.58" width="5.6" height="5.6" fill="none" stroke="#4fa832" stroke-width="1.1"/>
<rect x="96.94" y="396.31" width="5.6" height="5.6" fill="none" stroke="#4fa832" stroke-width="1.1"/>
<rect x="105.63" y="396.85" width="5.6" height="5.6" fill="none" stroke="#4fa832" stroke-width="1.1"/>
<rect x="114.32" y="396.85" width="5.6" height="5.6" fill="none" stroke="#4fa832" stroke-width="1.1"/>
<rect x="123.02" y="396.85" width="5.6" height="5.6" fill="none" stroke="#4fa832" stroke-width="1.1"/>
<rect x="131.71" y="396.85" width="5.6" height="5.6" fill="none" stroke="#4fa832" stroke-width="1.1"/>
<rect x="140.40" y="399.39" width="5.6" height="5.6" fill="none" stroke="#4fa832" stroke-width="1.1"/>
<rect x="149.09" y="400.32" width="5.6" height="5.6" fill="none" stroke="#4fa832" stroke-width="1.1"/>
<rect x="157.79" y="398.93" width="5.6" height="5.6" fill="none" stroke="#4fa832" stroke-width="1.1"/>
<rect x="166.48" y="398.11" width="5.6" height="5.6" fill="none" stroke="#4fa832" stroke-width="1.1"/>
<rect x="175.17" y="399.85" width="5.6" height="5.6" fill="none" stroke="#4fa832" stroke-width="1.1"/>
<rect x="183.86" y="398.93" width="5.6" height="5.6" fill="none" stroke="#4fa832" stroke-width="1.1"/>
<rect x="196.90" y="399.39" width="5.6" height="5.6" fill="none" stroke="#4fa832" stroke-width="1.1"/>
<rect x="214.29" y="386.56" width="5.6" height="5.6" fill="none" stroke="#4fa832" stroke-width="1.1"/>
<rect x="231.67" y="400.50" width="5.6" height="5.6" fill="none" stroke="#4fa832" stroke-width="1.1"/>
<rect x="249.06" y="401.63" width="5.6" height="5.6" fill="none" stroke="#4fa832" stroke-width="1.1"/>
<rect x="266.44" y="389.96" width="5.6" height="5.6" fill="none" stroke="#4fa832" stroke-width="1.1"/>
<path d="M286.63,389.72V395.48" stroke="#4fa832" stroke-width="1"/>
<rect x="283.83" y="389.80" width="5.6" height="5.6" fill="none" stroke="#4fa832" stroke-width="1.1"/>
<path d="M312.71,391.46V396.74" stroke="#4fa832" stroke-width="1"/>
<rect x="309.91" y="391.30" width="5.6" height="5.6" fill="none" stroke="#4fa832" stroke-width="1.1"/>
<path d="M347.48,404.61V410.21" stroke="#4fa832" stroke-width="1"/>
<rect x="344.68" y="404.61" width="5.6" height="5.6" fill="none" stroke="#4fa832" stroke-width="1.1"/>
<path d="M56.28,393.01 L64.97,392.10 L73.66,392.10 L82.35,393.43 L91.05,395.20 L99.74,395.20 L108.43,395.11 L117.12,395.11 L125.82,395.11 L134.51,394.27 L143.20,397.70 L151.89,399.02 L160.59,397.88 L169.28,398.05 L177.97,398.67 L186.66,398.23 L199.70,398.67 L217.09,387.00 L234.47,398.23 L251.86,397.09 L269.24,390.72 L286.63,393.01 L312.71,389.43 L347.48,402.10" fill="none" stroke="#0000ff" stroke-width="1.05"/>
<path d="M56.28,390.21L59.08,395.21L53.48,395.21Z" fill="#0000ff"/>
<path d="M64.97,389.30L67.77,394.30L62.17,394.30Z" fill="#0000ff"/>
<path d="M73.66,389.30L76.46,394.30L70.86,394.30Z" fill="#0000ff"/>
<path d="M82.35,390.63L85.15,395.63L79.55,395.63Z" fill="#0000ff"/>
<path d="M91.05,392.40L93.85,397.40L88.25,397.40Z" fill="#0000ff"/>
<path d="M99.74,392.40L102.54,397.40L96.94,397.40Z" fill="#0000ff"/>
<path d="M108.43,392.31L111.23,397.31L105.63,397.31Z" fill="#0000ff"/>
<path d="M117.12,392.31L119.92,397.31L114.32,397.31Z" fill="#0000ff"/>
<path d="M125.82,392.31L128.62,397.31L123.02,397.31Z" fill="#0000ff"/>
<path d="M134.51,391.47L137.31,396.47L131.71,396.47Z" fill="#0000ff"/>
<path d="M143.20,394.90L146.00,399.90L140.40,399.90Z" fill="#0000ff"/>
<path d="M151.89,396.22L154.69,401.22L149.09,401.22Z" fill="#0000ff"/>
<path d="M160.59,395.08L163.39,400.08L157.79,400.08Z" fill="#0000ff"/>
<path d="M169.28,395.25L172.08,400.25L166.48,400.25Z" fill="#0000ff"/>
<path d="M177.97,395.87L180.77,400.87L175.17,400.87Z" fill="#0000ff"/>
<path d="M186.66,395.43L189.46,400.43L183.86,400.43Z" fill="#0000ff"/>
<path d="M199.70,395.87L202.50,400.87L196.90,400.87Z" fill="#0000ff"/>
<path d="M217.09,384.20L219.89,389.20L214.29,389.20Z" fill="#0000ff"/>
<path d="M234.47,395.43L237.27,400.43L231.67,400.43Z" fill="#0000ff"/>
<path d="M251.86,394.29L254.66,399.29L249.06,399.29Z" fill="#0000ff"/>
<path d="M269.24,387.92L272.04,392.92L266.44,392.92Z" fill="#0000ff"/>
<path d="M286.63,390.13V395.89" stroke="#0000ff" stroke-width="1"/>
<path d="M286.63,390.21L289.43,395.21L283.83,395.21Z" fill="#0000ff"/>
<path d="M312.71,386.79V392.07" stroke="#0000ff" stroke-width="1"/>
<path d="M312.71,386.63L315.51,391.63L309.91,391.63Z" fill="#0000ff"/>
<path d="M347.48,399.30V404.90" stroke="#0000ff" stroke-width="1"/>
<path d="M347.48,399.30L350.28,404.30L344.68,404.30Z" fill="#0000ff"/>
<path d="M56.28,389.91 L64.97,393.01 L73.66,396.92 L82.35,400.01 L91.05,403.87 L99.74,403.87 L108.43,406.73 L117.12,406.73 L125.82,405.96 L134.51,404.15 L143.20,407.90 L151.89,409.49 L160.59,407.12 L169.28,407.12 L177.97,408.10 L186.66,405.29 L199.70,406.63 L217.09,397.26 L234.47,407.41 L251.86,400.82 L269.24,391.78 L286.63,397.61 L312.71,388.41 L347.48,404.53" fill="none" stroke="#1aa0c8" stroke-width="1.0" stroke-dasharray="3.5,1.5,1,1.5"/>
<path d="M56.28,392.71L59.08,387.71L53.48,387.71Z" fill="#1aa0c8"/>
<path d="M64.97,395.81L67.77,390.81L62.17,390.81Z" fill="#1aa0c8"/>
<path d="M73.66,399.72L76.46,394.72L70.86,394.72Z" fill="#1aa0c8"/>
<path d="M82.35,402.81L85.15,397.81L79.55,397.81Z" fill="#1aa0c8"/>
<path d="M91.05,406.67L93.85,401.67L88.25,401.67Z" fill="#1aa0c8"/>
<path d="M99.74,406.67L102.54,401.67L96.94,401.67Z" fill="#1aa0c8"/>
<path d="M108.43,409.53L111.23,404.53L105.63,404.53Z" fill="#1aa0c8"/>
<path d="M117.12,409.53L119.92,404.53L114.32,404.53Z" fill="#1aa0c8"/>
<path d="M125.82,408.76L128.62,403.76L123.02,403.76Z" fill="#1aa0c8"/>
<path d="M134.51,406.95L137.31,401.95L131.71,401.95Z" fill="#1aa0c8"/>
<path d="M143.20,410.70L146.00,405.70L140.40,405.70Z" fill="#1aa0c8"/>
<path d="M151.89,412.29L154.69,407.29L149.09,407.29Z" fill="#1aa0c8"/>
<path d="M160.59,409.92L163.39,404.92L157.79,404.92Z" fill="#1aa0c8"/>
<path d="M169.28,409.92L172.08,404.92L166.48,404.92Z" fill="#1aa0c8"/>
<path d="M177.97,410.90L180.77,405.90L175.17,405.90Z" fill="#1aa0c8"/>
<path d="M186.66,408.09L189.46,403.09L183.86,403.09Z" fill="#1aa0c8"/>
<path d="M199.70,409.43L202.50,404.43L196.90,404.43Z" fill="#1aa0c8"/>
<path d="M217.09,400.06L219.89,395.06L214.29,395.06Z" fill="#1aa0c8"/>
<path d="M234.47,410.21L237.27,405.21L231.67,405.21Z" fill="#1aa0c8"/>
<path d="M251.86,403.62L254.66,398.62L249.06,398.62Z" fill="#1aa0c8"/>
<path d="M269.24,394.58L272.04,389.58L266.44,389.58Z" fill="#1aa0c8"/>
<path d="M286.63,394.73V400.49" stroke="#1aa0c8" stroke-width="1"/>
<path d="M286.63,400.41L289.43,395.41L283.83,395.41Z" fill="#1aa0c8"/>
<path d="M312.71,385.77V391.05" stroke="#1aa0c8" stroke-width="1"/>
<path d="M312.71,391.21L315.51,386.21L309.91,386.21Z" fill="#1aa0c8"/>
<path d="M347.48,401.73V407.33" stroke="#1aa0c8" stroke-width="1"/>
<path d="M347.48,407.33L350.28,402.33L344.68,402.33Z" fill="#1aa0c8"/>
<path d="M56.28,405.38 L64.97,423.59 L73.66,433.42 L82.35,437.88 L91.05,439.55 L99.74,438.99 L108.43,437.19 L117.12,433.03 L125.82,429.05 L134.51,425.61 L143.20,424.30 L151.89,423.59 L160.59,420.70 L169.28,417.79 L177.97,416.04 L186.66,413.38 L199.70,414.86 L217.09,400.91 L234.47,412.03 L251.86,408.69 L269.24,404.43 L286.63,405.10 L312.71,401.73 L347.48,423.36" fill="none" stroke="#ff0000" stroke-width="1.0" stroke-dasharray="2,1.2"/>
<path d="M56.28,402.08L58.78,405.38L56.28,408.68L53.78,405.38Z" fill="#ff0000"/>
<path d="M64.97,420.29L67.47,423.59L64.97,426.89L62.47,423.59Z" fill="#ff0000"/>
<path d="M73.66,430.12L76.16,433.42L73.66,436.72L71.16,433.42Z" fill="#ff0000"/>
<path d="M82.35,434.58L84.85,437.88L82.35,441.18L79.85,437.88Z" fill="#ff0000"/>
<path d="M91.05,436.25L93.55,439.55L91.05,442.85L88.55,439.55Z" fill="#ff0000"/>
<path d="M99.74,435.69L102.24,438.99L99.74,442.29L97.24,438.99Z" fill="#ff0000"/>
<path d="M108.43,433.89L110.93,437.19L108.43,440.49L105.93,437.19Z" fill="#ff0000"/>
<path d="M117.12,429.73L119.62,433.03L117.12,436.33L114.62,433.03Z" fill="#ff0000"/>
<path d="M125.82,425.75L128.32,429.05L125.82,432.35L123.32,429.05Z" fill="#ff0000"/>
<path d="M134.51,422.31L137.01,425.61L134.51,428.91L132.01,425.61Z" fill="#ff0000"/>
<path d="M143.20,421.00L145.70,424.30L143.20,427.60L140.70,424.30Z" fill="#ff0000"/>
<path d="M151.89,420.29L154.39,423.59L151.89,426.89L149.39,423.59Z" fill="#ff0000"/>
<path d="M160.59,417.40L163.09,420.70L160.59,424.00L158.09,420.70Z" fill="#ff0000"/>
<path d="M169.28,414.49L171.78,417.79L169.28,421.09L166.78,417.79Z" fill="#ff0000"/>
<path d="M177.97,412.74L180.47,416.04L177.97,419.34L175.47,416.04Z" fill="#ff0000"/>
<path d="M186.66,410.08L189.16,413.38L186.66,416.68L184.16,413.38Z" fill="#ff0000"/>
<path d="M199.70,411.56L202.20,414.86L199.70,418.16L197.20,414.86Z" fill="#ff0000"/>
<path d="M217.09,397.61L219.59,400.91L217.09,404.21L214.59,400.91Z" fill="#ff0000"/>
<path d="M234.47,408.73L236.97,412.03L234.47,415.33L231.97,412.03Z" fill="#ff0000"/>
<path d="M251.86,405.39L254.36,408.69L251.86,411.99L249.36,408.69Z" fill="#ff0000"/>
<path d="M269.24,401.13L271.74,404.43L269.24,407.73L266.74,404.43Z" fill="#ff0000"/>
<path d="M286.63,401.80L289.13,405.10L286.63,408.40L284.13,405.10Z" fill="#ff0000"/>
<path d="M312.71,398.43L315.21,401.73L312.71,405.03L310.21,401.73Z" fill="#ff0000"/>
<path d="M347.48,420.06L349.98,423.36L347.48,426.66L344.98,423.36Z" fill="#ff0000"/>
<path d="M45.6,317.60h11.2M370.8,317.60h-11.2M45.6,309.16h5.3M370.8,309.16h-5.3M45.6,300.72h5.3M370.8,300.72h-5.3M45.6,292.28h5.3M370.8,292.28h-5.3M45.6,283.84h5.3M370.8,283.84h-5.3M45.6,275.40h11.2M370.8,275.40h-11.2M45.6,266.96h5.3M370.8,266.96h-5.3M45.6,258.52h5.3M370.8,258.52h-5.3M45.6,250.08h5.3M370.8,250.08h-5.3M45.6,241.64h5.3M370.8,241.64h-5.3M45.6,233.20h11.2M370.8,233.20h-11.2M45.6,224.76h5.3M370.8,224.76h-5.3M45.6,216.32h5.3M370.8,216.32h-5.3M45.6,207.88h5.3M370.8,207.88h-5.3M45.6,199.44h5.3M370.8,199.44h-5.3M45.6,191.00h11.2M370.8,191.00h-11.2M45.6,182.56h5.3M370.8,182.56h-5.3M45.6,174.12h5.3M370.8,174.12h-5.3M45.6,165.68h5.3M370.8,165.68h-5.3M45.6,157.24h5.3M370.8,157.24h-5.3M45.6,148.80h11.2M370.8,148.80h-11.2M45.6,140.36h5.3M370.8,140.36h-5.3M45.6,131.92h5.3M370.8,131.92h-5.3M45.6,123.48h5.3M370.8,123.48h-5.3M45.6,115.04h5.3M370.8,115.04h-5.3M45.6,106.60h11.2M370.8,106.60h-11.2M45.6,98.16h5.3M370.8,98.16h-5.3M45.6,89.72h5.3M370.8,89.72h-5.3M45.6,81.28h5.3M370.8,81.28h-5.3M45.6,72.84h5.3M370.8,72.84h-5.3M45.6,64.40h11.2M370.8,64.40h-11.2M45.6,55.96h5.3M370.8,55.96h-5.3M45.6,47.52h5.3M370.8,47.52h-5.3M45.6,39.08h5.3M370.8,39.08h-5.3M45.6,30.64h5.3M370.8,30.64h-5.3M45.6,22.20h11.2M370.8,22.20h-11.2M51.93,17.6v4.5M51.93,317.5v-4.2M51.93,317.5v2.3M51.93,478.0v-3.1M69.31,17.6v4.5M69.31,317.5v-4.2M69.31,317.5v2.3M69.31,478.0v-3.1M86.70,17.6v7.8M86.70,317.5v-8.2M86.70,317.5v5.5M86.70,478.0v-5.4M104.09,17.6v4.5M104.09,317.5v-4.2M104.09,317.5v2.3M104.09,478.0v-3.1M121.47,17.6v4.5M121.47,317.5v-4.2M121.47,317.5v2.3M121.47,478.0v-3.1M138.86,17.6v4.5M138.86,317.5v-4.2M138.86,317.5v2.3M138.86,478.0v-3.1M156.24,17.6v7.8M156.24,317.5v-8.2M156.24,317.5v5.5M156.24,478.0v-5.4M173.62,17.6v4.5M173.62,317.5v-4.2M173.62,317.5v2.3M173.62,478.0v-3.1M191.01,17.6v4.5M191.01,317.5v-4.2M191.01,317.5v2.3M191.01,478.0v-3.1M208.40,17.6v4.5M208.40,317.5v-4.2M208.40,317.5v2.3M208.40,478.0v-3.1M225.78,17.6v7.8M225.78,317.5v-8.2M225.78,317.5v5.5M225.78,478.0v-5.4M243.17,17.6v4.5M243.17,317.5v-4.2M243.17,317.5v2.3M243.17,478.0v-3.1M260.55,17.6v4.5M260.55,317.5v-4.2M260.55,317.5v2.3M260.55,478.0v-3.1M277.94,17.6v4.5M277.94,317.5v-4.2M277.94,317.5v2.3M277.94,478.0v-3.1M295.32,17.6v7.8M295.32,317.5v-8.2M295.32,317.5v5.5M295.32,478.0v-5.4M312.71,17.6v4.5M312.71,317.5v-4.2M312.71,317.5v2.3M312.71,478.0v-3.1M330.09,17.6v4.5M330.09,317.5v-4.2M330.09,317.5v2.3M330.09,478.0v-3.1M347.48,17.6v4.5M347.48,317.5v-4.2M347.48,317.5v2.3M347.48,478.0v-3.1M364.86,17.6v7.8M364.86,317.5v-8.2M364.86,317.5v5.5M364.86,478.0v-5.4M45.6,458.39h7.4M370.8,458.39h-7.4M45.6,442.42h5.2M370.8,442.42h-5.2M45.6,428.93h5.2M370.8,428.93h-5.2M45.6,417.24h5.2M370.8,417.24h-5.2M45.6,406.92h5.2M370.8,406.92h-5.2M45.6,397.70h7.4M370.8,397.70h-7.4M45.6,389.36h5.2M370.8,389.36h-5.2M45.6,381.74h5.2M370.8,381.74h-5.2M45.6,374.73h5.2M370.8,374.73h-5.2M45.6,368.24h5.2M370.8,368.24h-5.2M45.6,362.20h5.2M370.8,362.20h-5.2M45.6,356.55h5.2M370.8,356.55h-5.2M45.6,351.24h5.2M370.8,351.24h-5.2M45.6,346.24h5.2M370.8,346.24h-5.2M45.6,341.50h5.2M370.8,341.50h-5.2M45.6,337.01h7.4M370.8,337.01h-7.4M45.6,332.74h5.2M370.8,332.74h-5.2M45.6,328.67h5.2M370.8,328.67h-5.2M45.6,324.78h5.2M370.8,324.78h-5.2M45.6,321.05h5.2M370.8,321.05h-5.2" stroke="#000" stroke-width="1" fill="none"/>
<path d="M45.6,17.6H370.8V478.0M45.6,478.0V17.6 M45.6,317.5H370.8" stroke="#000" stroke-width="1.15" fill="none"/>
<path d="M45.050000000000004,478.0H371.35" stroke="#000" stroke-width="2" fill="none"/>
<g fill="#000">
<text x="51" y="14.3" font-size="12">900 GeV pp</text>
<text x="366.5" y="14.3" font-size="12" text-anchor="end">Underlying Event</text>
<text x="41.3" y="27.00" font-size="11" text-anchor="end">3.5</text>
<text x="41.3" y="69.20" font-size="11" text-anchor="end">3</text>
<text x="41.3" y="111.40" font-size="11" text-anchor="end">2.5</text>
<text x="41.3" y="153.60" font-size="11" text-anchor="end">2</text>
<text x="41.3" y="195.80" font-size="11" text-anchor="end">1.5</text>
<text x="41.3" y="238.00" font-size="11" text-anchor="end">1</text>
<text x="41.3" y="280.20" font-size="11" text-anchor="end">0.5</text>
<text x="38.1" y="341.11" font-size="11.5" text-anchor="end">2</text>
<text x="374" y="341.11" font-size="11.5">2</text>
<text x="38.1" y="401.80" font-size="11.5" text-anchor="end">1</text>
<text x="374" y="401.80" font-size="11.5">1</text>
<text x="38.1" y="462.49" font-size="11.5" text-anchor="end">0.5</text>
<text x="374" y="462.49" font-size="11.5">0.5</text>
<text x="87.20" y="488.9" font-size="12" text-anchor="middle">2</text>
<text x="156.74" y="488.9" font-size="12" text-anchor="middle">4</text>
<text x="226.28" y="488.9" font-size="12" text-anchor="middle">6</text>
<text x="295.82" y="488.9" font-size="12" text-anchor="middle">8</text>
<text x="365.36" y="488.9" font-size="12" text-anchor="middle">10</text>
<text x="242.85" y="500.8" font-size="12.7" textLength="7.30" lengthAdjust="spacingAndGlyphs">p</text>
<text x="249.90" y="508.0" font-size="8.6" textLength="5.40" lengthAdjust="spacingAndGlyphs">T</text>
<text x="258.01" y="500.8" font-size="12.7" textLength="116.80" lengthAdjust="spacingAndGlyphs">(leading track) [GeV]</text>
<text transform="translate(18.0,396.0) rotate(-90)" font-size="9" text-anchor="middle">Ratio to ATLAS</text>
<g transform="translate(13.1,144) rotate(-90)">
<text x="0" y="0" font-size="12">#</text>
<path d="M9.9,-9 L7.1,-3.6 L9.9,1.7" fill="none" stroke="#000" stroke-width="0.7"/>
<text x="11.1" y="0" font-size="12">d</text>
<text x="17.1" y="-6" font-size="8.4">2</text>
<text x="42.1" y="0" font-size="12">p</text>
<text x="48.9" y="10.8" font-size="8">T</text>
<text x="55.6" y="0" font-size="12" textLength="34.5" lengthAdjust="spacingAndGlyphs">/dηdφ#</text>
<path d="M90,-9 L94.2,-3.6 L90,1.7" fill="none" stroke="#000" stroke-width="0.7"/>
<text x="97.2" y="0" font-size="12">[GeV]</text>
</g>
<path d="M1,106.5 H3.8 V107.3 L2,107.6 V119.6 H1 Z M1,117.6 L9.6,111.4 L10,113.4 L1,119.9 Z M9.6,111.4 L19.2,118.6 L18.9,119.6 L9.5,112.8 Z M17.9,106.2 L19.9,105.8 V119.8 L17.9,119.2 Z M15.4,105.4 L17.9,106.2 V107.2 L15.4,106.2 Z"/>
<text x="51.58" y="39.6" font-size="12" textLength="27.64" lengthAdjust="spacingAndGlyphs">Away</text>
<g transform="translate(83,27.6)"><path d="M0.6,0 H13.6 L14,4.2 H13.3 L12.3,1.8 H4 L8.6,9 L2.2,17.6 H12.8 L14.3,14.2 H14.9 L14.2,19.4 H0 V18.8 L7.4,9.3 L0.6,0.8 Z"/></g>
<text x="100.23" y="39.6" font-size="12" textLength="7.54" lengthAdjust="spacingAndGlyphs">p</text>
<text x="106.48" y="50.8" font-size="8" textLength="6.05" lengthAdjust="spacingAndGlyphs">T</text>
<text x="115.70" y="39.6" font-size="12" textLength="38.03" lengthAdjust="spacingAndGlyphs">density</text>
<text x="158.16" y="39.6" font-size="12" textLength="15.44" lengthAdjust="spacingAndGlyphs">vs.</text>
<text x="176.18" y="39.6" font-size="12" textLength="7.05" lengthAdjust="spacingAndGlyphs">p</text>
<text x="181.43" y="47.0" font-size="8" textLength="4.75" lengthAdjust="spacingAndGlyphs">T</text>
<text x="180.88" y="33.6" font-size="8" textLength="12.69" lengthAdjust="spacingAndGlyphs">trk1</text>
<text x="193.52" y="39.6" font-size="12">,</text>
<path d="M200.6,33.1 L202.6,40.4" stroke="#000" stroke-width="1.5" fill="none"/>
<path d="M202.6,40.4 L203.7,30.15 L211.2,30.15" stroke="#000" stroke-width="0.9" fill="none"/>
<text x="204.83" y="40.0" font-size="13" textLength="6.65" lengthAdjust="spacingAndGlyphs">s</text>
<text x="214.68" y="40.6" font-size="12" textLength="7.45" lengthAdjust="spacingAndGlyphs">=</text>
<text x="225.46" y="39.6" font-size="12" textLength="2.79" lengthAdjust="spacingAndGlyphs">{</text>
<text x="228.54" y="39.6" font-size="12" textLength="19.93" lengthAdjust="spacingAndGlyphs">900</text>
<text x="252.61" y="39.6" font-size="12" textLength="23.54" lengthAdjust="spacingAndGlyphs">GeV</text>
<text x="275.89" y="39.6" font-size="12" textLength="4.24" lengthAdjust="spacingAndGlyphs">}</text>
<text x="279.42" y="39.6" font-size="12">,</text>
<text x="285.48" y="39.6" font-size="12" textLength="7.05" lengthAdjust="spacingAndGlyphs">p</text>
<text x="291.83" y="47.0" font-size="8" textLength="4.75" lengthAdjust="spacingAndGlyphs">T</text>
<text x="300.56" y="39.6" font-size="12" textLength="7.57" lengthAdjust="spacingAndGlyphs">&gt;</text>
<text x="311.23" y="39.6" font-size="12" textLength="3.45" lengthAdjust="spacingAndGlyphs">{</text>
<text x="314.89" y="39.6" font-size="12" textLength="19.87" lengthAdjust="spacingAndGlyphs">100</text>
<text x="337.73" y="39.6" font-size="12" textLength="26.72" lengthAdjust="spacingAndGlyphs">MeV</text>
<text x="364.21" y="39.6" font-size="12" textLength="3.79" lengthAdjust="spacingAndGlyphs">}</text>
<text x="94.3" y="64.80" font-size="9.4">ATLAS</text>
<text x="94.3" y="77.80" font-size="9.4">Herwig++ 2.7.1 default</text>
<text x="94.3" y="90.80" font-size="9.4">Herwig 7.2.1 default</text>
<text x="94.3" y="103.80" font-size="9.4">Pythia 8.315 default</text>
<text x="94.3" y="116.80" font-size="9.4">Pythia 8.315 vincia-default</text>
<text x="94.3" y="129.80" font-size="9.4">Sherpa 2.2.9 default</text>
</g>
<rect x="73.70" y="59.30" width="5.6" height="5.6" fill="#000"/>
<path d="M64,75.10H89" stroke="#a85c1c" stroke-width="1.0" stroke-dasharray="3,2"/>
<circle cx="76.40" cy="75.10" r="2.6" fill="none" stroke="#a85c1c" stroke-width="1.1"/>
<path d="M64,88.10H89" stroke="#4fa832" stroke-width="1.0" stroke-dasharray="3,2"/>
<rect x="73.60" y="85.30" width="5.6" height="5.6" fill="none" stroke="#4fa832" stroke-width="1.1"/>
<path d="M64,101.10H89" stroke="#0000ff" stroke-width="1.4"/>
<path d="M76.40,98.30L79.20,103.30L73.60,103.30Z" fill="#0000ff"/>
<path d="M64,114.10H89" stroke="#1aa0c8" stroke-width="1.0" stroke-dasharray="3.5,1.5,1,1.5"/>
<path d="M76.40,116.90L79.20,111.90L73.60,111.90Z" fill="#1aa0c8"/>
<path d="M64,127.10H76" stroke="#ff0000" stroke-width="1.0"/>
<path d="M76,127.10H89" stroke="#ff0000" stroke-width="1.0" stroke-dasharray="1.2,1.6"/>
<path d="M76.40,123.80L78.90,127.10L76.40,130.40L73.90,127.10Z" fill="#ff0000"/>
<text transform="translate(380.7,127.1) rotate(-90)" font-size="10" textLength="109.5" lengthAdjust="spacingAndGlyphs" fill="#808080">Rivet 4.1.0, ≥ 3.8M events</text>
<text transform="translate(380.7,313.1) rotate(-90)" font-size="10" textLength="146.5" lengthAdjust="spacingAndGlyphs" fill="#808080">mcplots.cern.ch [arXiv:2401.10621]</text>
<text x="164.9" y="302.5" font-size="8.6" textLength="85.8" lengthAdjust="spacingAndGlyphs" fill="#a0a0a0">(ATLAS_2010_I879407)</text>
</svg></body></html>
